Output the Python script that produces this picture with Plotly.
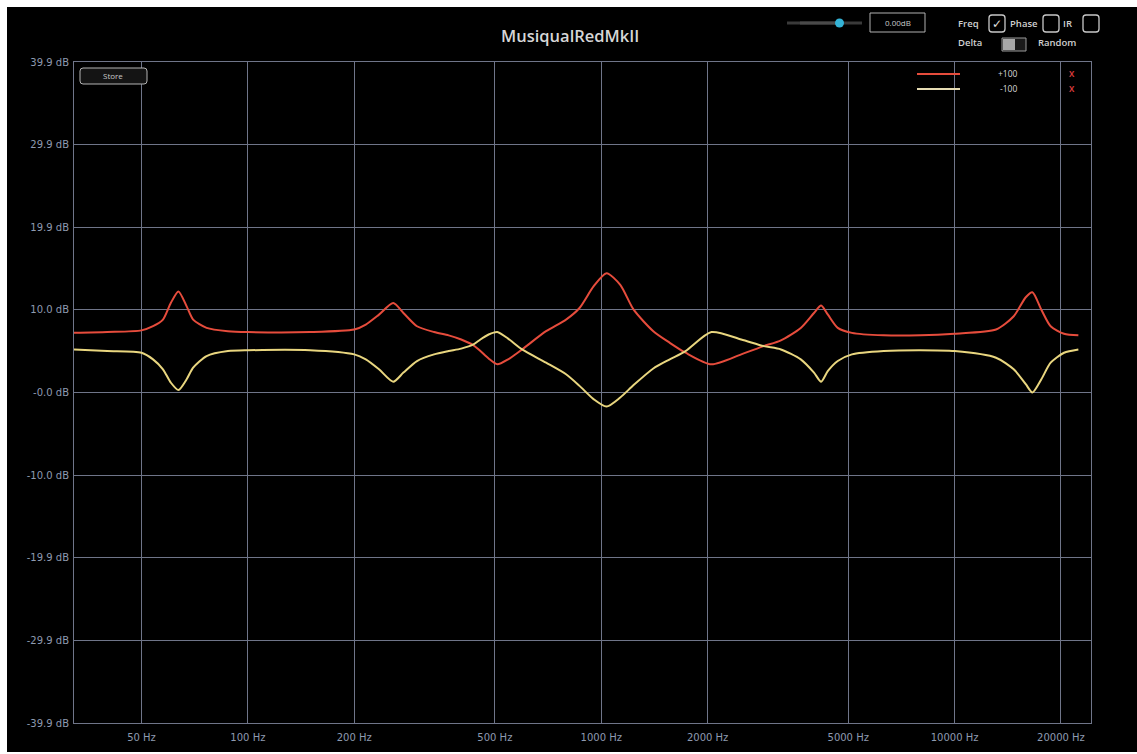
import plotly.graph_objects as go

# ---------------- data ----------------
freq_hz = [32.2, 40, 50, 53.9, 57.5, 60.5, 63.6, 67.1, 70.0, 76.4, 87.8, 100, 150,
           200, 215.6, 235, 257.8, 275.5, 301, 336.5, 370, 401.5, 435, 455, 480, 508,
           545, 597, 698, 795, 868, 951, 1035, 1132, 1235, 1404, 1563, 1732, 2050,
           2490, 2884, 3225, 3670, 4000, 4190, 4380, 4670, 5120, 6300, 8000,
           10000, 13100, 14700, 15900, 16600, 17600, 18700, 20400, 22400]

plus100_db = [7.2, 7.3, 7.5, 8.0, 8.8, 10.8, 12.2, 10.4, 8.8, 7.8, 7.4, 7.3, 7.3,
              7.6, 8.2, 9.4, 10.8, 9.6, 8.0, 7.3, 6.9, 6.4, 5.7, 5.0, 4.1, 3.4,
              4.0, 5.2, 7.4, 8.8, 10.2, 12.8, 14.4, 13.0, 10.0, 7.4, 6.0, 4.8, 3.4,
              4.6, 5.6, 6.3, 7.8, 9.6, 10.5, 9.4, 7.8, 7.2, 6.9, 6.9,
              7.1, 7.6, 9.2, 11.5, 12.1, 10.0, 8.0, 7.1, 6.9]

minus100_db = [5.2, 5.0, 4.8, 4.0, 2.8, 1.2, 0.3, 1.6, 3.0, 4.4, 5.0, 5.1, 5.1,
               4.6, 4.0, 2.8, 1.3, 2.4, 3.8, 4.6, 5.0, 5.3, 5.8, 6.4, 7.0, 7.3,
               6.5, 5.2, 3.6, 2.2, 0.8, -0.8, -1.7, -0.6, 0.9, 2.9, 4.0, 5.0, 7.3,
               6.4, 5.6, 5.2, 4.0, 2.4, 1.3, 2.6, 3.8, 4.6, 5.0, 5.1,
               5.0, 4.2, 2.8, 1.0, 0.0, 1.6, 3.6, 4.8, 5.2]

series_names = ["+100", "-100"]

x_tick_vals = [50, 100, 200, 500, 1000, 2000, 5000, 10000, 20000]
x_tick_text = ["50 Hz", "100 Hz", "200 Hz", "500 Hz", "1000 Hz", "2000 Hz",
               "5000 Hz", "10000 Hz", "20000 Hz"]
y_tick_vals = [39.9, 29.925, 19.95, 9.975, 0, -9.975, -19.95, -29.925, -39.9]
y_tick_text = ["39.9 dB", "29.9 dB", "19.9 dB", "10.0 dB", "-0.0 dB",
               "-10.0 dB", "-19.9 dB", "-29.9 dB", "-39.9 dB"]

title_text = "MusiqualRedMkII"

# ---------------- styling / layout ----------------
W, H = 1137, 754
L, R, T, B = 74, 1091, 62, 723
RED = "#e64c3c"
YEL = "#e9d67f"
GRID = "#6f7589"
TICKC = "#8e9ab0"
TICKFONT = "DejaVu Sans"


def px(x):
    return (x - L) / (R - L)


def py(y):
    return (B - y) / (B - T)


fig = go.Figure()
fig.add_trace(go.Scatter(x=freq_hz, y=plus100_db, mode="lines", name=series_names[0],
                         line=dict(color=RED, width=2, shape="spline", smoothing=0.7),
                         showlegend=False))
fig.add_trace(go.Scatter(x=freq_hz, y=minus100_db, mode="lines", name=series_names[1],
                         line=dict(color=YEL, width=2, shape="spline", smoothing=0.7),
                         showlegend=False))

shapes = []
annotations = []


def rect(x0, y0, x1, y1, fill=None, line=None, lw=1):
    shapes.append(dict(type="rect", xref="paper", yref="paper",
                       x0=px(x0), x1=px(x1), y0=py(y1), y1=py(y0),
                       fillcolor=fill if fill else "rgba(0,0,0,0)",
                       line=dict(color=line if line else "rgba(0,0,0,0)", width=lw if line else 0)))


def rrect(x0, y0, x1, y1, r, fill, line, lw=1):
    X0, X1, Y0, Y1 = px(x0), px(x1), py(y0), py(y1)
    rx = r / (R - L)
    ry = r / (B - T)
    p = (f"M {X0+rx},{Y0} L {X1-rx},{Y0} Q {X1},{Y0} {X1},{Y0-ry} "
         f"L {X1},{Y1+ry} Q {X1},{Y1} {X1-rx},{Y1} L {X0+rx},{Y1} "
         f"Q {X0},{Y1} {X0},{Y1+ry} L {X0},{Y0-ry} Q {X0},{Y0} {X0+rx},{Y0} Z")
    shapes.append(dict(type="path", xref="paper", yref="paper", path=p,
                       fillcolor=fill, line=dict(color=line, width=lw)))


def hline(x0, x1, y, color, w=2):
    shapes.append(dict(type="line", xref="paper", yref="paper",
                       x0=px(x0), x1=px(x1), y0=py(y), y1=py(y),
                       line=dict(color=color, width=w)))


def text(x, y, s, size=9, color="#d0d0d0", xanchor="center", family="Open Sans", weight=None):
    f = dict(size=size, color=color, family=family)
    if weight:
        f["weight"] = weight
    annotations.append(dict(xref="paper", yref="paper", x=px(x), y=py(y), text=s,
                            showarrow=False, xanchor=xanchor, yanchor="middle", font=f))


# white frame around the black panel
rect(0, 0, 7, H, fill="white")
rect(0, 0, W, 7, fill="white")
rect(0, 752, W, H, fill="white")

# title
text(570, 35, title_text, size=16.5, color="#d6d6d6", weight=600)

# Store button
rrect(80, 68, 147, 84, 3, "#141414", "#b4b4b4", 1)
text(113, 76, "Store", size=8, color="#c8c8c8")

# legend (custom, top right)
hline(917, 960, 74, RED, 2)
hline(917, 960, 89, "#e6dcb4", 2)
text(1008, 74, series_names[0], size=8.5, color="#d8d8d8")
text(1008, 89, series_names[1], size=8.5, color="#d8d8d8")
text(1072, 74, "X", size=8, color="#d23a3a", weight=700)
text(1072, 89, "X", size=8, color="#d23a3a", weight=700)

# slider
hline(787, 862, 23, "#3a3a3a", 3)
hline(800, 840, 23, "#4a4a4a", 3)
shapes.append(dict(type="circle", xref="paper", yref="paper",
                   x0=px(835), x1=px(844), y0=py(27.5), y1=py(18.5),
                   fillcolor="#34b3d6", line=dict(width=0)))
# value box
rect(870, 13, 925, 32, fill="#000000", line="#b0b0b0", lw=1)
text(897.5, 22.5, "0.00dB", size=8, color="#c8c8c8")

# checkboxes
text(968, 23, "Freq", size=9.5, color="#d0d0d0", weight=600)
rrect(989, 15, 1005, 32, 3, "#000000", "#c8c8c8", 1.3)
text(997, 23.5, "✓", size=12, color="#e0e0e0", family="DejaVu Sans")
text(1024, 23, "Phase", size=9.5, color="#d0d0d0", weight=600)
rrect(1043, 15, 1059, 32, 3, "#000000", "#c8c8c8", 1.3)
text(1067, 23, "IR", size=9.5, color="#d0d0d0", weight=600)
rrect(1083, 15, 1099, 32, 3, "#000000", "#c8c8c8", 1.3)

# toggle
text(970, 43, "Delta", size=9.5, color="#d0d0d0", weight=600)
rect(1002, 38, 1026, 51, fill="#1a1a1a", line="#9a9a9a", lw=1)
rect(1003, 39, 1015, 50, fill="#a8a8a8")
text(1057, 43, "Random", size=9.5, color="#d0d0d0", weight=600)

fig.update_layout(
    width=W, height=H, autosize=False,
    paper_bgcolor="#000000", plot_bgcolor="#000000",
    margin=dict(l=L, r=W - R, t=T, b=H - B, pad=0),
    shapes=shapes, annotations=annotations,
    showlegend=False,
    font=dict(family=TICKFONT, color=TICKC),
)

fig.update_xaxes(type="log", range=[1.5079, 4.386],
                 tickvals=x_tick_vals, ticktext=x_tick_text,
                 showgrid=True, gridcolor=GRID, gridwidth=1,
                 showline=True, linecolor=GRID, linewidth=1, mirror=True,
                 zeroline=False, ticks="", ticklabelstandoff=5,
                 tickfont=dict(size=10, color=TICKC, family=TICKFONT))
fig.update_yaxes(range=[-39.9, 39.9],
                 tickvals=y_tick_vals, ticktext=y_tick_text,
                 showgrid=True, gridcolor=GRID, gridwidth=1,
                 showline=True, linecolor=GRID, linewidth=1, mirror=True,
                 zeroline=False, ticks="", ticklabelstandoff=2,
                 tickfont=dict(size=10, color=TICKC, family=TICKFONT))

fig.write_html("out.html")
